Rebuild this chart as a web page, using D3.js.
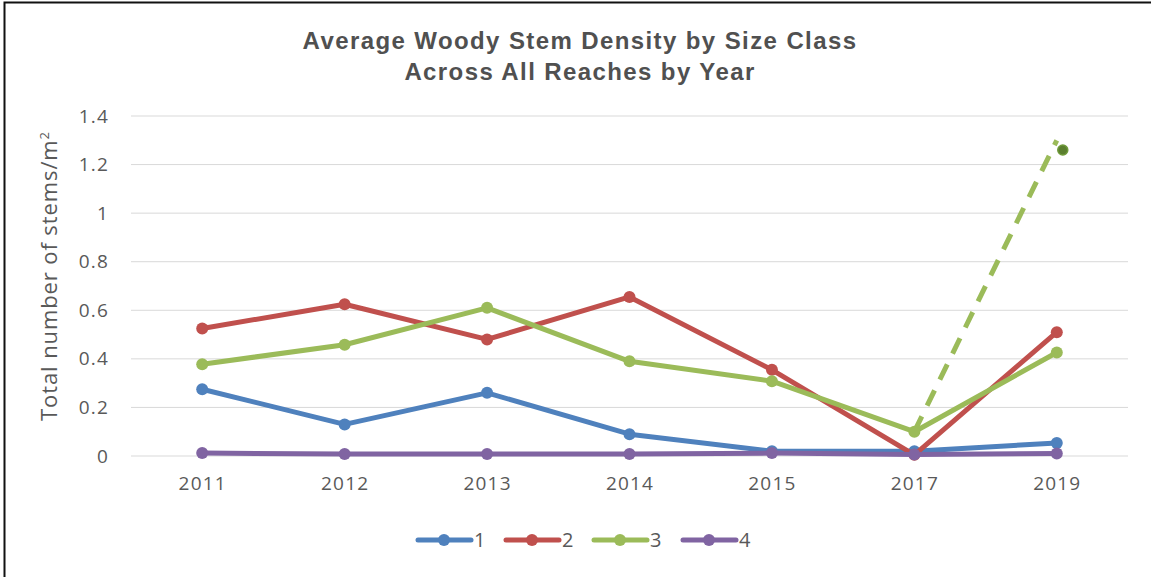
<!DOCTYPE html>
<head>
  <meta charset='utf-8'>
  <style>
    body { margin: 0; background: #fff; }
    text { font-family: 'Open Sans', 'Liberation Sans', Arial, sans-serif; fill: #595959; }
    .title { font-family: 'Liberation Sans', Arial, sans-serif; font-weight: bold; font-size: 24px; letter-spacing: 1.4px; fill: #505050; }
    .tick text { font-size: 19px; letter-spacing: 1.2px; fill: #595959; }
  </style>
</head>
<body>
<div id='vis'></div>
<script src='https://d3js.org/d3.v7.min.js'></script>
<script>
  // data
  const years = ['2011', '2012', '2013', '2014', '2015', '2017', '2019']
  const sizeClasses = ['1', '2', '3', '4']
  const class1 = [0.275, 0.13, 0.26, 0.09, 0.02, 0.02, 0.054]
  const class2 = [0.525, 0.625, 0.48, 0.655, 0.355, 0.005, 0.51]
  const class3 = [0.378, 0.458, 0.61, 0.39, 0.308, 0.10, 0.426]
  const class4 = [0.012, 0.008, 0.008, 0.008, 0.012, 0.006, 0.01]
  const trendYears = ['2017', '2019']
  const trendValues = [0.10, 1.30]
  const trendPointYear = '2019'
  const trendPointValue = 1.26
  const yTicks = [0, 0.2, 0.4, 0.6, 0.8, 1, 1.2, 1.4]
  const colors = ['#4f81bd', '#c0504d', '#9bbb59', '#8064a2']

  const W = 1151, H = 577
  const margin = {top: 116, right: 23, bottom: 121, left: 131}
  const width = W - margin.left - margin.right
  const height = H - margin.top - margin.bottom

  const svg = d3.select('#vis').append('svg')
    .attr('width', W).attr('height', H)

  // frame (only top and left are visible in the crop)
  svg.append('path')
    .attr('d', `M4.5,${H} V2.5 H${W}`)
    .attr('fill', 'none').attr('stroke', '#111').attr('stroke-width', 2)

  svg.append('text').attr('class', 'title')
    .attr('x', 580).attr('y', 49).attr('text-anchor', 'middle')
    .text('Average Woody Stem Density by Size Class')
  svg.append('text').attr('class', 'title')
    .attr('x', 580).attr('y', 80).attr('text-anchor', 'middle')
    .text('Across All Reaches by Year')

  const g = svg.append('g').attr('transform', `translate(${margin.left},${margin.top})`)

  const x = d3.scalePoint().domain(years).range([0, width]).padding(0.5)
  const y = d3.scaleLinear().domain([0, 1.4]).range([height, 0])

  // gridlines
  g.append('g').selectAll('line').data(yTicks).join('line')
    .attr('x1', 0).attr('x2', width)
    .attr('y1', d => y(d)).attr('y2', d => y(d))
    .attr('stroke', '#d9d9d9').attr('stroke-width', 1)

  const yAxis = g.append('g')
    .call(d3.axisLeft(y).tickValues(yTicks).tickSize(0).tickPadding(22).tickFormat(d => String(+d.toFixed(1))))
  yAxis.select('.domain').remove()

  const xAxis = g.append('g').attr('transform', `translate(0,${height})`)
    .call(d3.axisBottom(x).tickSize(0).tickPadding(21))
  xAxis.select('.domain').remove()

  svg.append('text')
    .attr('transform', `translate(57,${margin.top + height / 2 - 10}) rotate(-90)`)
    .attr('text-anchor', 'middle')
    .style('font-size', '22px')
    .style('letter-spacing', '0.9px')
    .html('Total number of stems/m<tspan dy="-8" font-size="13">2</tspan>')

  const series = [class1, class2, class3, class4]
  const line = d3.line().x((d, i) => x(years[i])).y(d => y(d))

  // dashed trend for class 3
  g.append('path')
    .datum(trendValues)
    .attr('d', d3.line().x((d, i) => x(trendYears[i])).y(d => y(d)))
    .attr('fill', 'none').attr('stroke', colors[2]).attr('stroke-width', 5)
    .attr('stroke-dasharray', '17,12')
  g.append('circle')
    .attr('cx', x(trendPointYear) + 6).attr('cy', y(trendPointValue))
    .attr('r', 5).attr('fill', '#5b7f2e').attr('stroke', '#6f9a3a').attr('stroke-width', 1.5)

  series.forEach((vals, k) => {
    g.append('path').datum(vals)
      .attr('d', line)
      .attr('fill', 'none').attr('stroke', colors[k]).attr('stroke-width', 5)
      .attr('stroke-linejoin', 'round')
    g.append('g').selectAll('circle').data(vals).join('circle')
      .attr('cx', (d, i) => x(years[i])).attr('cy', d => y(d))
      .attr('r', 6).attr('fill', colors[k])
  })

  // legend
  const legend = svg.append('g').attr('transform', 'translate(416,540)')
  const lx = d3.scaleOrdinal().domain(sizeClasses).range([0, 88, 176, 265])
  sizeClasses.forEach((c, k) => {
    const item = legend.append('g').attr('transform', `translate(${lx(c)},0)`)
    item.append('line').attr('x1', 2).attr('x2', 55).attr('y1', 0).attr('y2', 0)
      .attr('stroke', colors[k]).attr('stroke-width', 5).attr('stroke-linecap', 'round')
    item.append('circle').attr('cx', 28).attr('cy', 0).attr('r', 6).attr('fill', colors[k])
    item.append('text').attr('x', 58).attr('y', 7).style('font-size', '20px').text(c)
  })
</script>
</body>
